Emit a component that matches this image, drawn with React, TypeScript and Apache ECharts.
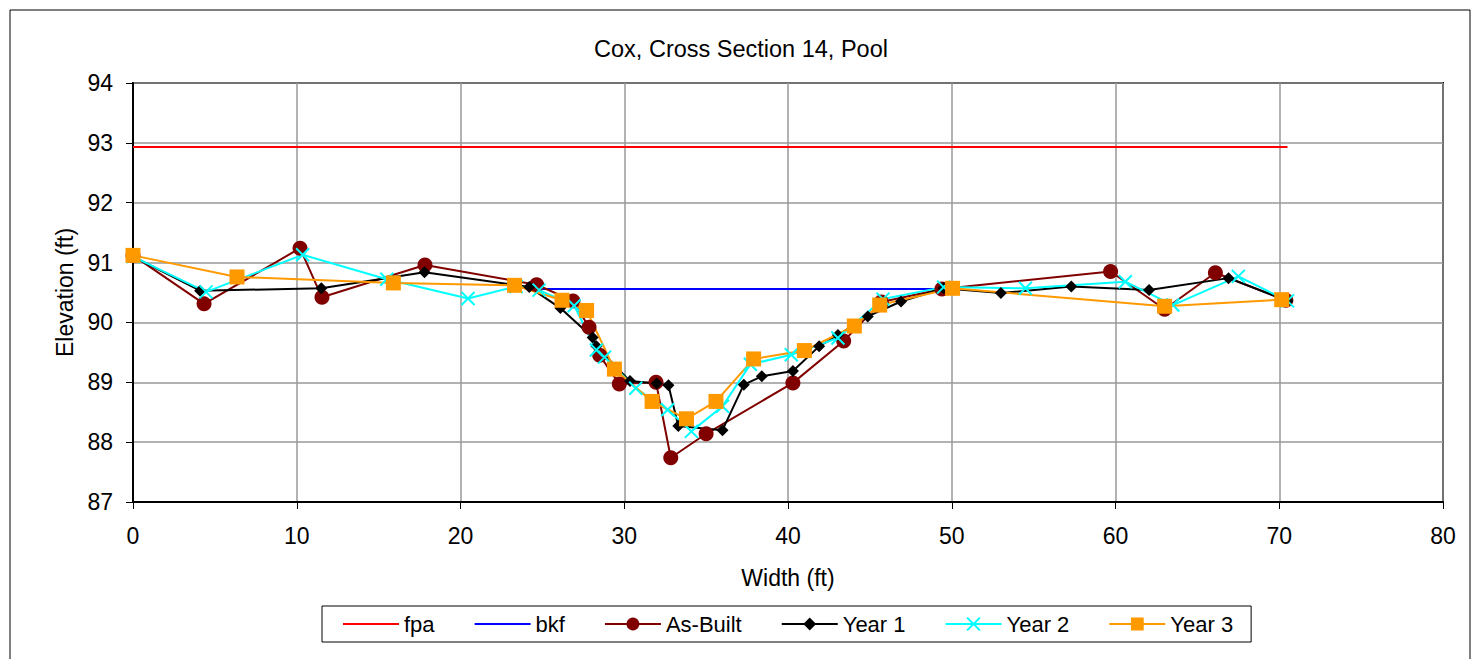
import React, { useEffect, useRef } from "react";
import * as echarts from "echarts";

const titleText = "Cox, Cross Section 14, Pool";
const xAxisName = "Width (ft)";
const yAxisName = "Elevation (ft)";

const fpaX = [0, 70.5];
const fpaY = [92.93, 92.93];

const bkfX = [24.3, 49.6];
const bkfY = [90.56, 90.56];

const asBuiltX = [0, 4.34, 10.2, 11.54, 17.83, 24.65, 26.87, 27.85, 28.5, 29.7, 31.94, 32.84, 35.0, 40.3, 43.4, 45.7, 49.4, 59.7, 63.0, 66.1, 70.4];
const asBuiltY = [91.12, 90.31, 91.24, 90.42, 90.96, 90.63, 90.36, 89.92, 89.45, 88.97, 89.0, 87.74, 88.14, 88.99, 89.69, 90.34, 90.56, 90.85, 90.22, 90.83, 90.37];

const year1X = [0, 4.1, 11.5, 17.8, 24.2, 26.1, 28.07, 28.3, 30.35, 31.98, 32.7, 33.3, 36.0, 37.3, 38.4, 40.3, 41.9, 43.05, 44.87, 46.9, 49.5, 53.0, 57.3, 62.05, 66.9, 70.5];
const year1Y = [91.1, 90.53, 90.57, 90.84, 90.59, 90.24, 89.75, 89.6, 89.02, 88.98, 88.95, 88.27, 88.2, 88.96, 89.1, 89.19, 89.6, 89.79, 90.1, 90.35, 90.57, 90.49, 90.6, 90.54, 90.74, 90.36];

const year2X = [0, 4.46, 10.36, 15.5, 20.46, 23.4, 24.8, 26.94, 28.3, 28.8, 30.7, 32.65, 34.1, 36.0, 37.7, 40.2, 43.05, 45.8, 49.5, 54.5, 60.6, 63.5, 67.5, 70.5];
const year2Y = [91.1, 90.51, 91.13, 90.72, 90.4, 90.6, 90.54, 90.28, 89.54, 89.42, 88.9, 88.54, 88.18, 88.6, 89.3, 89.46, 89.74, 90.39, 90.59, 90.57, 90.68, 90.29, 90.77, 90.36];

const year3X = [0, 6.35, 15.9, 23.3, 26.2, 27.7, 29.4, 31.7, 33.8, 35.6, 37.9, 41.0, 44.05, 45.6, 50.05, 63.0, 70.15];
const year3Y = [91.12, 90.76, 90.66, 90.62, 90.37, 90.2, 89.22, 88.68, 88.39, 88.68, 89.39, 89.53, 89.94, 90.29, 90.57, 90.27, 90.38];

const xTicks = { min: 0, max: 80, interval: 10 };
const yTicks = { min: 87, max: 94, interval: 1 };

const pairs = (xs: number[], ys: number[]) => xs.map((x, i) => [x, ys[i]]);

const FONT = "'Liberation Sans', Arial, sans-serif";

export default function App() {
  const ref = useRef<HTMLDivElement>(null);
  useEffect(() => {
    if (!ref.current) return;
    const chart = echarts.init(ref.current, null, { renderer: "svg" });
    const lineSeries = (name: string, xs: number[], ys: number[], color: string, symbol: string, symbolSize: number, extra: any = {}) => ({
      name,
      type: "line",
      data: pairs(xs, ys),
      symbol,
      symbolSize,
      showSymbol: symbol !== "none",
      lineStyle: { color, width: 2 },
      itemStyle: { color, ...(extra.itemStyle || {}) },
      emphasis: { disabled: true },
      z: 2,
    });
    chart.setOption({
      animation: false,
      textStyle: { fontFamily: FONT },
      title: {
        text: titleText,
        left: "center",
        top: 37,
        padding: 0,
        textStyle: { fontFamily: FONT, fontSize: 23.5, fontWeight: "normal", color: "#000" },
      },
      graphic: [
        {
          type: "rect",
          shape: { x: 10, y: 10, width: 1460, height: 680 },
          style: { fill: "none", stroke: "#000", lineWidth: 1 },
          silent: true,
        },
      ],
      grid: {
        left: 133,
        top: 83,
        right: 39,
        bottom: 157,
        show: true,
        borderColor: "#000",
        borderWidth: 2,
        backgroundColor: "transparent",
      },
      legend: {
        left: 322,
        top: 606,
        orient: "horizontal",
        borderColor: "#000",
        borderWidth: 1,
        padding: [7, 18, 7, 20],
        itemGap: 39,
        itemWidth: 56,
        itemHeight: 16,
        textStyle: { fontFamily: FONT, fontSize: 22, color: "#000" },
        data: [
          { name: "fpa", itemStyle: { opacity: 0 } },
          { name: "bkf", itemStyle: { opacity: 0 } },
          "As-Built",
          "Year 1",
          "Year 2",
          "Year 3",
        ],
      },
      xAxis: {
        type: "value",
        min: xTicks.min,
        max: xTicks.max,
        interval: xTicks.interval,
        name: xAxisName,
        nameLocation: "middle",
        nameGap: 64,
        nameTextStyle: { fontFamily: FONT, fontSize: 23, color: "#000" },
        axisLine: { show: true, onZero: false, lineStyle: { color: "#000", width: 2 } },
        axisTick: { show: true, inside: false, length: 7, lineStyle: { color: "#000", width: 1 } },
        axisLabel: { margin: 22, fontFamily: FONT, fontSize: 23, color: "#000" },
        splitLine: { show: true, lineStyle: { color: "#999", width: 1.5 } },
      },
      yAxis: {
        type: "value",
        min: yTicks.min,
        max: yTicks.max,
        interval: yTicks.interval,
        name: yAxisName,
        nameLocation: "middle",
        nameGap: 57,
        nameTextStyle: { fontFamily: FONT, fontSize: 23, color: "#000" },
        axisLine: { show: true, onZero: false, lineStyle: { color: "#000", width: 2 } },
        axisTick: { show: true, inside: false, length: 7, lineStyle: { color: "#000", width: 1 } },
        axisLabel: { margin: 20, fontFamily: FONT, fontSize: 23, color: "#000" },
        splitLine: { show: true, lineStyle: { color: "#999", width: 1.5 } },
      },
      series: [
        lineSeries("fpa", fpaX, fpaY, "#FF0000", "none", 0),
        lineSeries("bkf", bkfX, bkfY, "#0000FF", "none", 0),
        lineSeries("As-Built", asBuiltX, asBuiltY, "#800000", "circle", 15),
        lineSeries("Year 1", year1X, year1Y, "#000000", "diamond", 12),
        lineSeries("Year 2", year2X, year2Y, "#00FFFF", "path://M0,0L10,10M10,0L0,10", 13, {
          itemStyle: { borderColor: "#00FFFF", borderWidth: 2 },
        }),
        lineSeries("Year 3", year3X, year3Y, "#FF9900", "rect", 15),
      ],
    });
    return () => chart.dispose();
  }, []);
  return (
    <div
      ref={ref}
      style={{ position: "fixed", left: 0, top: 0, width: 1482, height: 659, background: "#fff" }}
    />
  );
}
